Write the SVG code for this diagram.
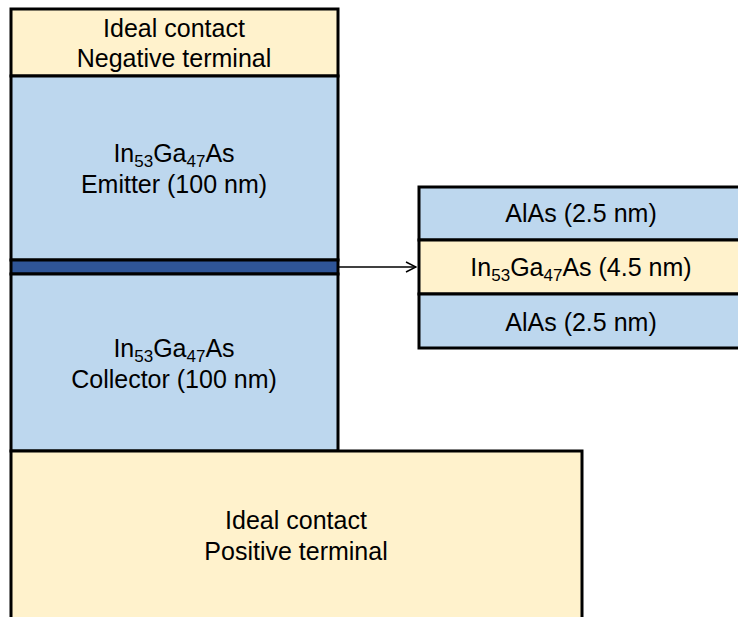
<svg xmlns="http://www.w3.org/2000/svg" width="738" height="617" viewBox="0 0 738 617">
  <defs>
    <marker id="open-arrow" viewBox="0 0 12 12" refX="11" refY="6" markerWidth="12" markerHeight="12" markerUnits="userSpaceOnUse" orient="auto">
      <path d="M1,1 L11,6 L1,11" fill="none" stroke="#000" stroke-width="1.5"/>
    </marker>
  </defs>
  <style>
    .layer { stroke: #000; stroke-width: 3; }
    .contact { fill: #FFF2CC; }
    .ingaas { fill: #BDD7EE; }
    .barrier { fill: #2F5597; }
    .lbl { font-family: "Liberation Sans", Arial, sans-serif; font-size: 25px; fill: #000; text-anchor: middle; }
    .sub { font-size: 17px; }
  </style>
  <rect width="738" height="617" fill="#fff"/>

  <!-- left device stack -->
  <g id="top-contact">
    <rect class="layer contact" x="11" y="9" width="327" height="67"/>
    <text class="lbl" x="174" y="37">Ideal contact</text>
    <text class="lbl" x="174" y="67">Negative terminal</text>
  </g>
  <g id="emitter">
    <rect class="layer ingaas" x="11" y="76" width="327" height="184"/>
    <text class="lbl" x="174" y="162">In<tspan class="sub" dy="5">53</tspan><tspan dy="-5">Ga</tspan><tspan class="sub" dy="5">47</tspan><tspan dy="-5">As</tspan></text>
    <text class="lbl" x="174" y="193">Emitter (100 nm)</text>
  </g>
  <g id="barrier-stack">
    <rect class="layer barrier" x="11" y="260" width="327" height="14"/>
  </g>
  <g id="collector">
    <rect class="layer ingaas" x="11" y="274" width="327" height="177"/>
    <text class="lbl" x="174" y="357">In<tspan class="sub" dy="5">53</tspan><tspan dy="-5">Ga</tspan><tspan class="sub" dy="5">47</tspan><tspan dy="-5">As</tspan></text>
    <text class="lbl" x="174" y="388">Collector (100 nm)</text>
  </g>
  <g id="bottom-contact">
    <rect class="layer contact" x="11" y="451" width="571" height="175"/>
    <text class="lbl" x="296" y="529">Ideal contact</text>
    <text class="lbl" x="296" y="560">Positive terminal</text>
  </g>

  <!-- expanded view of the barrier stack -->
  <g id="detail-alas-top">
    <rect class="layer ingaas" x="419" y="187" width="330" height="53"/>
    <text class="lbl" x="581" y="222">AlAs (2.5 nm)</text>
  </g>
  <g id="detail-well">
    <rect class="layer contact" x="419" y="240" width="330" height="54"/>
    <text class="lbl" x="581" y="276">In<tspan class="sub" dy="5">53</tspan><tspan dy="-5">Ga</tspan><tspan class="sub" dy="5">47</tspan><tspan dy="-5">As (4.5 nm)</tspan></text>
  </g>
  <g id="detail-alas-bottom">
    <rect class="layer ingaas" x="419" y="294" width="330" height="54"/>
    <text class="lbl" x="581" y="331">AlAs (2.5 nm)</text>
  </g>

  <g id="connectors">
    <line x1="339" y1="267" x2="416" y2="267" stroke="#000" stroke-width="1.5" marker-end="url(#open-arrow)"/>
  </g>
</svg>
